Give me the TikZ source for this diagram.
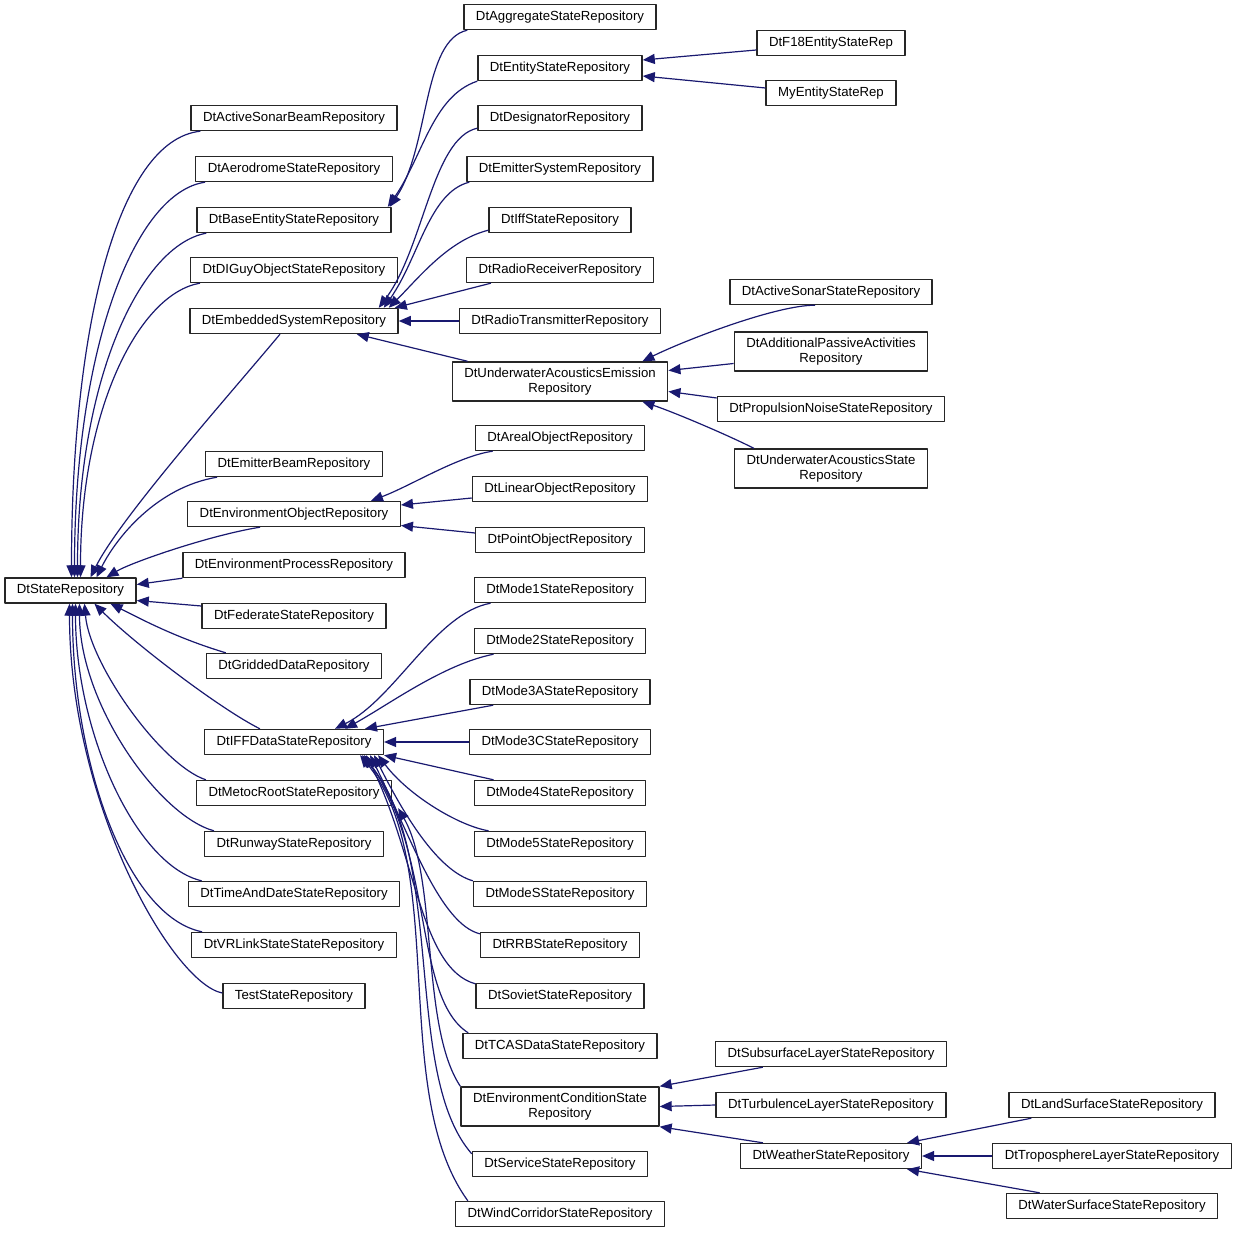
\documentclass[tikz,border=0pt]{standalone}
\usepackage{fontspec}
\setmainfont{Liberation Sans}
\usetikzlibrary{arrows.meta}
\definecolor{edgeblue}{HTML}{191970}

\begin{document}
\begin{tikzpicture}[x=0.5pt, y=-0.5pt, line join=round,
  cls/.style={draw=black!85, line width=0.7pt, fill=white, inner xsep=6pt, inner ysep=0pt,
    minimum height=12.5pt, font=\fontsize{6.6}{7.5}\selectfont, align=center},
  cls2/.style={cls, minimum height=19.5pt},
  inh/.style={draw=edgeblue, line width=0.6pt, -{Triangle[length=6pt,width=5pt]}, fill=none}]
\fill[white] (0,0) rectangle (1235,1235);
\useasboundingbox (0,0) rectangle (1235,1235);

% base class
\node[cls] (base) at (70.5,590.5) {DtStateRepository};

% first level
\node[cls] (sbeam)  at (294,118) {DtActiveSonarBeamRepository};
\node[cls] (aero)   at (294,169) {DtAerodromeStateRepository};
\node[cls] (bent)   at (294,220) {DtBaseEntityStateRepository};
\node[cls] (diguy)  at (294,270) {DtDIGuyObjectStateRepository};
\node[cls] (embed)  at (294,321) {DtEmbeddedSystemRepository};
\node[cls] (ebeam)  at (294,464) {DtEmitterBeamRepository};
\node[cls] (envobj) at (294,514) {DtEnvironmentObjectRepository};
\node[cls] (eproc)  at (294,565) {DtEnvironmentProcessRepository};
\node[cls] (fed)    at (294,616) {DtFederateStateRepository};
\node[cls] (grid)   at (294,666) {DtGriddedDataRepository};
\node[cls] (iff)    at (294,742) {DtIFFDataStateRepository};
\node[cls] (metoc)  at (294,793) {DtMetocRootStateRepository};
\node[cls] (runway) at (294,844) {DtRunwayStateRepository};
\node[cls] (tad)    at (294,894) {DtTimeAndDateStateRepository};
\node[cls] (vrl)    at (294,945) {DtVRLinkStateStateRepository};
\node[cls] (test)   at (294,996) {TestStateRepository};

% second level
\node[cls] (agg)     at (560,17)  {DtAggregateStateRepository};
\node[cls] (ent)     at (560,68)  {DtEntityStateRepository};
\node[cls] (desig)   at (560,118) {DtDesignatorRepository};
\node[cls] (emsys)   at (560,169) {DtEmitterSystemRepository};
\node[cls] (iffst)   at (560,220) {DtIffStateRepository};
\node[cls] (rrecv)   at (560,270) {DtRadioReceiverRepository};
\node[cls] (rtx)     at (560,321) {DtRadioTransmitterRepository};
\node[cls2] (uae)    at (560,381.5) {DtUnderwaterAcousticsEmission\\Repository};
\node[cls] (areal)   at (560,438) {DtArealObjectRepository};
\node[cls] (linear)  at (560,489) {DtLinearObjectRepository};
\node[cls] (point)   at (560,540) {DtPointObjectRepository};
\node[cls] (m1)      at (560,590) {DtMode1StateRepository};
\node[cls] (m2)      at (560,641) {DtMode2StateRepository};
\node[cls] (m3a)     at (560,692) {DtMode3AStateRepository};
\node[cls] (m3c)     at (560,742) {DtMode3CStateRepository};
\node[cls] (m4)      at (560,793) {DtMode4StateRepository};
\node[cls] (m5)      at (560,844) {DtMode5StateRepository};
\node[cls] (ms)      at (560,894) {DtModeSStateRepository};
\node[cls] (rrb)     at (560,945) {DtRRBStateRepository};
\node[cls] (soviet)  at (560,996) {DtSovietStateRepository};
\node[cls] (tcas)    at (560,1046) {DtTCASDataStateRepository};
\node[cls2] (envcond) at (560,1106.5) {DtEnvironmentConditionState\\Repository};
\node[cls] (service) at (560,1164) {DtServiceStateRepository};
\node[cls] (wind)    at (560,1214) {DtWindCorridorStateRepository};

% third level
\node[cls] (f18)      at (831,43)  {DtF18EntityStateRep};
\node[cls] (myent)    at (831,93)  {MyEntityStateRep};
\node[cls] (asonar)   at (831,292) {DtActiveSonarStateRepository};
\node[cls2] (addpass) at (831,351.5) {DtAdditionalPassiveActivities\\Repository};
\node[cls] (prop)     at (831,409) {DtPropulsionNoiseStateRepository};
\node[cls2] (uastate) at (831,468.5) {DtUnderwaterAcousticsState\\Repository};
\node[cls] (subsurf)  at (831,1054) {DtSubsurfaceLayerStateRepository};
\node[cls] (turb)     at (831,1105) {DtTurbulenceLayerStateRepository};
\node[cls] (weather)  at (831,1156) {DtWeatherStateRepository};

% fourth level
\node[cls] (land)  at (1112,1105) {DtLandSurfaceStateRepository};
\node[cls] (tropo) at (1112,1156) {DtTroposphereLayerStateRepository};
\node[cls] (water) at (1112,1206) {DtWaterSurfaceStateRepository};

% straight links
\foreach \a/\b in {rtx/embed, m3c/iff, turb/envcond, tropo/weather}
    \draw[inh] (\a.west) -- (\b.east);

% into DtStateRepository, from above
\draw[inh] ([xshift=5pt]sbeam.south west) .. controls +(-83,9) and +(0,-248) .. ([xshift=0.5pt]base.north);
\draw[inh] ([xshift=5pt]aero.south west) .. controls +(-70,10) and +(0,-230) .. ([xshift=2pt]base.north);
\draw[inh] ([xshift=5pt]bent.south west) .. controls +(-65,12) and +(0,-200) .. ([xshift=3.5pt]base.north);
\draw[inh] ([xshift=5pt]diguy.south west) .. controls +(-60,10) and +(0,-170) .. ([xshift=5pt]base.north);
\draw[inh] ([xshift=-7pt]embed.south) .. controls +(-50,60) and +(30,-60) .. ([xshift=10pt]base.north);
\draw[inh] ([xshift=6pt]ebeam.south west) .. controls +(-60,10) and +(20,-40) .. ([xshift=13pt]base.north);
\draw[inh] ([xshift=-17pt]envobj.south) .. controls +(-50,8) and +(25,-15) .. ([xshift=18pt]base.north);
\draw[inh] (eproc.south west) -- ([yshift=3pt]base.east);
\draw[inh] ([yshift=5pt]fed.west) -- ([yshift=-5pt]base.east);
% into DtStateRepository, from below
\draw[inh] ([xshift=10pt]grid.north west) .. controls +(-50,-15) and +(30,15) .. ([xshift=20pt]base.south);
\draw[inh] ([xshift=28pt]iff.north west) .. controls +(-40,-20) and +(40,40) .. ([xshift=12pt]base.south);
\draw[inh] ([xshift=5pt]metoc.north west) .. controls +(-45,-15) and +(5,60) .. ([xshift=7pt]base.south);
\draw[inh] ([xshift=5pt]runway.north west) .. controls +(-55,-15) and +(0,100) .. ([xshift=4.5pt]base.south);
\draw[inh] ([xshift=7pt]tad.north west) .. controls +(-65,-15) and +(0,130) .. ([xshift=2.5pt]base.south);
\draw[inh] ([xshift=5.5pt]vrl.north west) .. controls +(-75,-15) and +(0,160) .. ([xshift=1pt]base.south);
\draw[inh] ([yshift=1.5pt]test.west) .. controls +(-50,-10) and +(0,200) .. ([xshift=-0.5pt]base.south);

% entity states
\draw[inh] ([xshift=2pt]agg.south west) .. controls +(-45,10) and +(40,-60) .. ([xshift=-1pt]bent.north east);
\draw[inh] (ent.south west) .. controls +(-45,15) and +(35,-50) .. ([xshift=-2pt]bent.north east);
\draw[inh] ([yshift=-3.5pt]f18.west) -- ([yshift=4pt]ent.east);
\draw[inh] ([yshift=2.5pt]myent.west) -- ([yshift=-4pt]ent.east);

% embedded systems
\draw[inh] ([yshift=1.5pt]desig.south west) .. controls +(-45,10) and +(45,-60) .. ([xshift=-10pt]embed.north east);
\draw[inh] ([xshift=1.5pt]emsys.south west) .. controls +(-40,10) and +(35,-50) .. ([xshift=-7.5pt]embed.north east);
\draw[inh] ([yshift=1.5pt]iffst.south west) .. controls +(-40,10) and +(30,-30) .. ([xshift=-5pt]embed.north east);
\draw[inh] ([xshift=12.5pt]rrecv.south west) -- ([xshift=-2pt]embed.north east);
\draw[inh] ([xshift=8pt]uae.north west) -- ([xshift=-21pt]embed.south east);

% underwater acoustics
\draw[inh] ([xshift=-8pt]asonar.south) .. controls +(-40,0) and +(40,-20) .. ([xshift=-13pt]uae.north east);
\draw[inh] ([yshift=-6pt]addpass.west) -- ([yshift=5.5pt]uae.east);
\draw[inh] ([yshift=5.5pt]prop.west) -- ([yshift=-5pt]uae.east);
\draw[inh] ([xshift=10pt]uastate.north west) .. controls +(-30,-15) and +(30,10) .. ([xshift=-13pt]uae.south east);

% environment objects
\draw[inh] ([xshift=9pt]areal.south west) .. controls +(-35,5) and +(40,-15) .. ([xshift=-15pt]envobj.north east);
\draw[inh] ([yshift=-4.5pt]linear.west) -- ([yshift=4.5pt]envobj.east);
\draw[inh] ([yshift=3.5pt]point.west) -- ([yshift=-5.75pt]envobj.east);

% IFF data
\draw[inh] ([xshift=8.5pt]m1.south west) .. controls +(-55,10) and +(60,-30) .. ([xshift=20.5pt]iff.north);
\draw[inh] ([xshift=10pt]m2.south west) .. controls +(-50,10) and +(45,-25) .. ([xshift=25.5pt]iff.north);
\draw[inh] ([xshift=12pt]m3a.south west) -- ([xshift=35.5pt]iff.north);
\draw[inh] ([xshift=10pt]m4.north west) -- (iff.south east);
\draw[inh] ([xshift=7.5pt]m5.north west) .. controls +(-30,-5) and +(30,40) .. ([xshift=-3pt]iff.south east);
\draw[inh] (ms.north west) .. controls +(-35,-10) and +(30,60) .. ([xshift=-5pt]iff.south east);
\draw[inh] ([yshift=-1pt]rrb.north west) .. controls +(-40,-10) and +(40,80) .. ([xshift=-7pt]iff.south east);
\draw[inh] ([yshift=-0.5pt]soviet.north west) .. controls +(-55,-15) and +(50,100) .. ([xshift=-9pt]iff.south east);
\draw[inh] ([xshift=3pt]tcas.north west) .. controls +(-55,-35) and +(70,100) .. ([xshift=-10pt]iff.south east);
\draw[inh] ([yshift=-1.5pt]service.north west) .. controls +(-70,-80) and +(85,100) .. ([xshift=-11pt]iff.south east);
\draw[inh] ([xshift=6.5pt]wind.north west) .. controls +(-80,-110) and +(90,110) .. ([xshift=-12pt]iff.south east);

% metoc
\draw[inh] (envcond.north west) .. controls +(-40,-60) and +(40,70) .. ([xshift=3pt,yshift=-1pt]metoc.south east);
\draw[inh] ([xshift=24pt]subsurf.south west) -- (envcond.north east);
\draw[inh] ([xshift=11.5pt]weather.north west) -- (envcond.south east);
\draw[inh] ([xshift=11.5pt]land.south west) -- ([xshift=-7.5pt]weather.north east);
\draw[inh] ([xshift=17pt]water.north west) -- ([xshift=-7.5pt]weather.south east);
\end{tikzpicture}
\end{document}
